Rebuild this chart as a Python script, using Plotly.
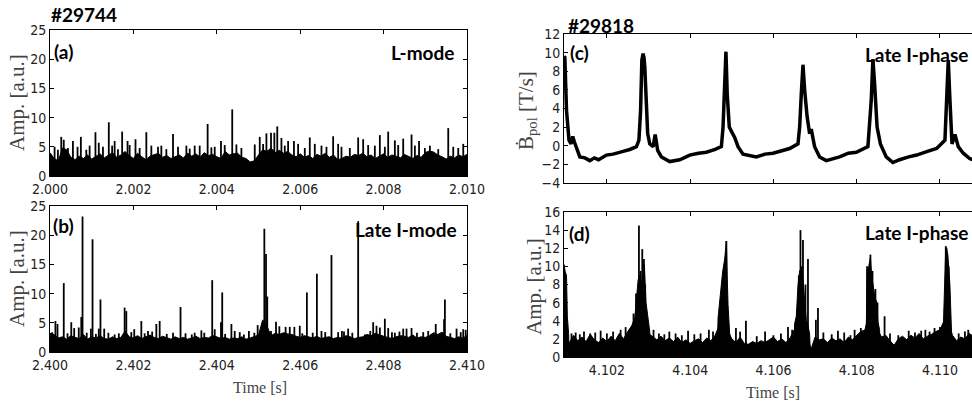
import plotly.graph_objects as go
import numpy as np

W, H = 972, 408

# ---------------- panel (a): #29744, L-mode ----------------
a_t0 = 2.000
a_step = 0.0001
a_base = [4.0, 3.0, 2.6, 4.8, 4.5, 3.2, 2.8, 3.4, 3.0, 3.6,
          2.9, 3.3, 3.8, 3.1, 3.5, 4.0, 3.2, 3.6, 4.2, 3.5,
          3.0, 3.9, 3.3, 2.8, 3.4, 3.7, 3.9, 3.2, 3.5, 3.0,
          3.3, 3.6, 3.1, 3.9, 3.4, 3.8, 3.2, 4.0, 3.5, 3.7,
          3.3, 3.0, 4.2, 3.6, 3.8, 3.9, 3.2, 3.0, 2.4, 2.6,
          3.6, 4.5, 4.2, 4.8, 4.0, 4.4, 3.9, 4.2, 3.6, 3.3,
          3.8, 3.2, 3.5, 3.0, 3.7, 3.4, 3.9, 3.2, 3.6, 2.8,
          3.0, 3.4, 3.2, 3.7, 3.5, 3.9, 3.3, 3.6, 3.0, 3.4,
          3.8, 3.2, 3.6, 3.4, 3.1, 3.7, 3.3, 3.0, 3.5, 3.2,
          4.0, 4.3, 4.1, 3.6, 3.3, 2.9, 3.4, 3.1, 3.6, 3.3,
          3.7]
a_spike_ms = [0.27, 0.33, 0.55, 0.74, 1.09, 1.17, 1.41, 1.55, 1.73, 1.86,
              2.05, 2.31, 2.59, 2.95, 3.27, 3.47, 3.78, 3.95, 4.10, 4.37,
              4.47, 5.03, 5.19, 5.30, 5.38, 5.45, 5.55, 5.71, 5.85, 6.23,
              6.35, 6.79, 6.91, 7.39, 7.51, 7.91, 8.11, 8.27, 8.47, 8.67,
              8.85, 9.55, 9.91,
              0.11, 0.19, 0.43, 0.66, 0.87, 0.95, 1.27, 1.49, 1.63, 1.91,
              2.15, 2.43, 2.67, 2.79, 3.07, 3.35, 3.59, 3.87, 4.19, 4.59,
              4.91, 5.11, 5.63, 5.95, 6.11, 6.51, 6.63, 6.99, 7.19, 7.63,
              7.79, 8.03, 8.35, 8.75, 8.99, 9.11, 9.31, 9.67, 9.79]
a_spike_amp = [6.7, 6.2, 6.0, 6.7, 7.5, 5.7, 9.2, 6.0, 7.6, 6.0,
               6.3, 7.5, 5.0, 7.2, 5.2, 5.2, 8.9, 5.0, 6.0, 11.4,
               5.4, 6.7, 7.3, 7.4, 7.4, 8.5, 6.5, 6.0, 6.0, 6.6,
               5.5, 6.8, 5.5, 6.6, 6.3, 7.0, 7.6, 6.1, 6.4, 7.1,
               6.0, 8.2, 5.5,
               5.0, 4.5, 4.8, 5.0, 4.5, 5.2, 5.0, 5.2, 4.6, 5.3,
               4.8, 5.2, 5.2, 4.6, 5.0, 4.7, 5.2, 4.9, 5.3, 4.8,
               5.4, 5.5, 5.2, 5.5, 4.8, 5.2, 5.0, 5.0, 4.8, 5.3,
               5.2, 5.0, 5.3, 5.2, 4.8, 5.2, 4.6, 5.0, 4.8]

# ---------------- panel (b): #29744, late I-mode ----------------
b_t0 = 2.400
b_step = 0.0001
b_base = [3.2, 3.0, 2.4, 2.6, 2.2, 2.8, 2.5, 2.3, 3.0, 2.2,
          2.6, 2.4, 2.8, 2.3, 2.2, 2.6, 2.3, 2.5, 3.6, 2.6,
          2.4, 2.8, 2.3, 2.6, 2.9, 2.5, 2.3, 2.7, 2.4, 2.2,
          2.6, 2.3, 2.5, 2.2, 2.4, 2.7, 2.3, 2.5, 2.4, 2.8,
          2.6, 2.3, 2.5, 2.2, 2.4, 2.3, 2.6, 2.2, 2.4, 2.7,
          2.9, 5.5, 4.5, 2.8, 3.2, 3.0, 3.3, 3.1, 3.0, 2.7,
          2.5, 2.8, 2.6, 2.4, 2.7, 2.3, 2.5, 2.6, 2.3, 2.5,
          2.4, 2.8, 2.6, 2.3, 2.5, 2.6, 3.0, 2.8, 3.2, 2.9,
          2.7, 2.5, 2.3, 2.6, 2.8, 2.7, 2.5, 2.9, 2.4, 2.6,
          2.5, 2.8, 3.3, 3.0, 3.4, 2.7, 2.5, 2.3, 2.6, 2.4,
          2.8]
b_spike_ms = [0.13, 0.18, 0.33, 0.51, 0.58, 0.69, 0.75, 0.78, 0.98, 1.02,
              1.17, 1.21, 1.30, 1.55, 1.79, 1.83, 2.02, 2.19, 2.35, 2.55,
              2.63, 3.13, 3.47, 3.63, 3.89, 3.95, 4.10, 4.13, 4.35, 4.43,
              4.77, 4.98, 5.14, 5.18, 5.21, 5.42, 5.50, 5.65, 5.75, 5.86,
              5.99, 6.16, 6.40, 6.51, 6.75, 6.91, 7.15, 7.39, 7.75, 7.83,
              7.91, 8.03, 8.11, 8.27, 8.47, 8.55, 8.67, 9.07, 9.25, 9.45,
              9.47, 9.75, 9.91,
              0.05, 0.42, 0.88, 1.10, 1.40, 1.65, 1.95, 2.27, 2.45, 2.80,
              2.95, 3.25, 3.40, 3.70, 4.20, 4.55, 4.65, 4.90, 5.30, 6.05,
              6.30, 6.60, 7.00, 7.05, 7.25, 7.55, 7.68, 8.20, 8.38, 8.80,
              8.95, 9.15, 9.60, 9.85, 9.97]
b_spike_amp = [5.3, 4.8, 11.8, 5.1, 4.1, 4.2, 6.0, 23.2, 4.0, 19.3,
               4.0, 9.0, 4.0, 3.0, 7.6, 7.0, 3.9, 5.3, 3.6, 4.8,
               5.3, 7.7, 3.3, 3.7, 12.3, 3.9, 5.1, 10.2, 4.8, 3.6,
               3.6, 4.6, 21.1, 16.8, 9.5, 5.2, 4.4, 4.3, 4.3, 4.3,
               4.5, 10.2, 13.4, 3.6, 16.6, 3.4, 4.0, 22.4, 5.1, 4.5,
               4.2, 5.7, 4.1, 3.3, 4.0, 4.0, 4.1, 3.6, 4.8, 5.6,
               9.0, 4.0, 3.9,
               3.4, 3.2, 3.3, 3.1, 3.3, 3.2, 3.4, 3.2, 3.5, 3.1,
               3.3, 3.2, 3.0, 3.3, 3.1, 3.4, 3.0, 3.3, 3.6, 3.2,
               3.3, 3.4, 3.6, 3.5, 3.3, 3.0, 3.6, 3.4, 3.5, 3.3,
               3.4, 3.1, 3.2, 3.4, 3.8]

# ---------------- panel (c): #29818, dB_pol/dt ----------------
c_t = [4.10097, 4.10099, 4.10103, 4.10109, 4.10114, 4.10118, 4.10122, 4.10126,
       4.10135, 4.10147, 4.10159, 4.10170, 4.10180, 4.10199, 4.10215, 4.10239,
       4.10255, 4.10271, 4.10277, 4.10281, 4.10284, 4.10287, 4.10289, 4.10291,
       4.10294, 4.10298, 4.10303, 4.10311, 4.10316, 4.10322, 4.10331, 4.10351,
       4.10375, 4.10399, 4.10420, 4.10439, 4.10460, 4.10475, 4.10479, 4.10483,
       4.10486, 4.10489, 4.10494, 4.10502, 4.10507, 4.10515, 4.10527, 4.10559,
       4.10580, 4.10599, 4.10620, 4.10639, 4.10659, 4.10663, 4.10667, 4.10671,
       4.10675, 4.10681, 4.10687, 4.10691, 4.10695, 4.10699, 4.10711, 4.10727,
       4.10759, 4.10780, 4.10799, 4.10815, 4.10827, 4.10835, 4.10839, 4.10843,
       4.10849, 4.10857, 4.10871, 4.10887, 4.10903, 4.10925, 4.10944, 4.10970,
       4.10992, 4.11012, 4.11016, 4.11020, 4.11024, 4.11029, 4.11036, 4.11044,
       4.11056, 4.11072, 4.11080]
c_v = [9.6, 9.5, 3.8, 0.6, 0.2, 1.0, 0.4, -0.1,
       -1.2, -1.3, -1.6, -1.3, -1.5, -1.0, -0.9, -0.6,
       -0.4, -0.1, 0.6, 3.8, 9.2, 9.9, 9.5, 8.5,
       4.9, 1.3, 0.2, -0.1, 1.2, -0.5, -1.2, -1.7,
       -1.5, -1.0, -0.8, -0.7, -0.4, -0.1, 2.0, 6.7,
       10.1, 5.6, 2.0, 1.3, 0.9, -0.1, -0.9, -1.2,
       -0.9, -0.8, -0.5, -0.3, 0.2, 2.0, 5.6, 8.7,
       6.0, 3.1, 1.3, 1.8, 0.8, -0.1, -1.2, -1.6,
       -1.2, -0.8, -0.7, -0.4, -0.1, 4.9, 9.3, 6.7,
       2.0, 0.2, -1.2, -1.8, -1.5, -1.2, -1.0, -0.6,
       -0.3, 0.6, 4.9, 9.2, 4.9, 0.2, 1.2, -0.1,
       -0.8, -1.4, -1.5]

# ---------------- panel (d): #29818, amplitude ----------------
d_t0 = 4.1010
d_step = 0.0001
d_base = [2.0, 1.6, 2.4, 1.8, 2.2, 1.7, 2.5, 1.9, 1.6, 2.1,
          1.7, 2.3, 1.8, 2.6, 2.0, 2.8, 3.4, 4.0, 5.0, 4.0,
          2.6, 2.2, 1.9, 2.3, 1.8, 2.1, 1.7, 2.2, 1.6, 1.9,
          1.5, 1.8, 2.0, 1.6, 2.1, 1.8, 2.4, 3.5, 5.0, 3.0,
          2.0, 1.6, 2.2, 1.5, 1.4, 1.7, 1.5, 1.8, 1.6, 1.9,
          2.2, 1.7, 2.0, 1.6, 2.1, 3.0, 4.5, 5.0, 3.0, 0.8,
          2.2, 1.9, 2.0, 1.6, 2.1, 1.8, 2.0, 1.6, 2.2, 1.9,
          2.4, 2.8, 3.0, 5.0, 5.0, 3.0, 2.2, 2.4, 1.8, 1.3,
          2.0, 2.3, 1.9, 2.4, 2.1, 2.6, 2.0, 2.3, 2.5, 2.8,
          3.0, 4.0, 4.0, 2.4, 1.8, 2.2, 2.0, 2.6, 2.3]
d_burst_t = [4.10097, 4.10097, 4.10100, 4.10103, 4.10105, 4.10108, 4.10110,
             4.10249, 4.10251, 4.10260, 4.10267, 4.10271, 4.10275, 4.10279, 4.10283,
             4.10287, 4.10290, 4.10294, 4.10299, 4.10303, 4.10305,
             4.10465, 4.10467, 4.10471, 4.10475, 4.10478, 4.10483, 4.10487, 4.10489,
             4.10491, 4.10495, 4.10497,
             4.10649, 4.10651, 4.10655, 4.10659, 4.10663, 4.10667, 4.10671, 4.10675,
             4.10679, 4.10683, 4.10687, 4.10689,
             4.10822, 4.10824, 4.10825, 4.10829, 4.10833, 4.10836, 4.10839, 4.10844,
             4.10848, 4.10851, 4.10855, 4.10857,
             4.11006, 4.11008, 4.11011, 4.11014, 4.11019, 4.11022, 4.11024, 4.11028,
             4.11030]
d_burst_v = [0, 10.2, 9.4, 9.0, 4.5, 2.6, 0,
             0, 2.8, 3.5, 4.3, 6.5, 8.5, 9.0, 8.0,
             9.5, 10.2, 6.0, 4.3, 2.8, 0,
             0, 4.3, 6.1, 7.5, 9.4, 10.8, 12.8, 9.0,
             5.8, 2.5, 0,
             0, 3.7, 4.5, 7.9, 9.5, 9.8, 8.5, 6.0,
             4.0, 3.5, 2.5, 0,
             0, 6.0, 9.5, 10.0, 11.0, 9.0, 7.9, 6.5,
             6.1, 3.9, 3.0, 0,
             0, 3.3, 6.0, 12.2, 11.3, 9.0, 7.9, 2.5,
             0]
d_spike_t = [4.10125, 4.10145, 4.10185, 4.10233, 4.10264, 4.10277, 4.10285, 4.10289,
             4.10312, 4.10350, 4.10395, 4.10445, 4.10487, 4.10510, 4.10534, 4.10580,
             4.10635, 4.10665, 4.10668, 4.10671, 4.10683, 4.10702, 4.10707, 4.10755,
             4.10795, 4.10825, 4.10833, 4.10867, 4.10925, 4.10965, 4.10987, 4.11014,
             4.11068,
             4.10270, 4.10281, 4.10292, 4.10480, 4.10485, 4.10661, 4.10677, 4.10838,
             4.10845, 4.10850, 4.11016, 4.11021,
             4.10115, 4.10135, 4.10160, 4.10172, 4.10200, 4.10215, 4.10245, 4.10325,
             4.10338, 4.10365, 4.10380, 4.10410, 4.10425, 4.10455, 4.10520, 4.10560,
             4.10600, 4.10618, 4.10645, 4.10720, 4.10740, 4.10770, 4.10785, 4.10810,
             4.10880, 4.10900, 4.10940, 4.10955, 4.10975, 4.11000, 4.11045, 4.11060]
d_spike_amp = [2.7, 2.8, 2.9, 3.0, 4.8, 14.5, 11.9, 10.8,
               3.0, 2.8, 2.9, 3.0, 12.8, 3.2, 4.0, 2.8,
               3.3, 14.0, 10.0, 12.9, 10.8, 4.1, 5.4, 2.9,
               3.0, 10.0, 11.3, 4.5, 2.9, 3.0, 3.2, 12.2,
               3.0,
               7.0, 9.5, 8.0, 8.5, 11.0, 9.0, 8.0, 9.5,
               7.5, 6.0, 12.0, 10.0,
               2.6, 2.5, 2.6, 2.7, 2.6, 2.8, 3.3, 2.6,
               2.5, 2.6, 2.4, 2.5, 2.6, 2.8, 2.8, 2.3,
               2.4, 2.6, 3.0, 2.7, 2.5, 2.7, 2.4, 3.2,
               2.6, 2.4, 2.7, 2.9, 2.8, 3.3, 2.6, 2.8]

# tick labels
left_a_ticks = [2.000, 2.002, 2.004, 2.006, 2.008, 2.010]
left_b_ticks = [2.400, 2.402, 2.404, 2.406, 2.408, 2.410]
right_ticks = [4.102, 4.104, 4.106, 4.108, 4.110]
amp_left_ticks = [0, 5, 10, 15, 20, 25]
bpol_ticks = [-4, -2, 0, 2, 4, 6, 8, 10, 12]
amp_right_ticks = [0, 2, 4, 6, 8, 10, 12, 14, 16]


def seg(ts, hs):
    xs, ys = [], []
    for t, h in zip(ts, hs):
        xs += [t, t, None]
        ys += [0, h, None]
    return xs, ys


fig = go.Figure()
BLACK = "#000000"
SPW = 1.8

# (a)
ta = a_t0 + a_step * np.arange(len(a_base))
fig.add_trace(go.Scatter(x=ta, y=a_base, mode="lines", fill="tozeroy",
                         fillcolor=BLACK, line=dict(color=BLACK, width=1),
                         xaxis="x", yaxis="y", showlegend=False, hoverinfo="skip"))
sx, sy = seg([a_t0 + m / 1000 for m in a_spike_ms], a_spike_amp)
fig.add_trace(go.Scatter(x=sx, y=sy, mode="lines", line=dict(color=BLACK, width=SPW),
                         xaxis="x", yaxis="y", showlegend=False, hoverinfo="skip"))
# (b)
tb = b_t0 + b_step * np.arange(len(b_base))
fig.add_trace(go.Scatter(x=tb, y=b_base, mode="lines", fill="tozeroy",
                         fillcolor=BLACK, line=dict(color=BLACK, width=1),
                         xaxis="x2", yaxis="y2", showlegend=False, hoverinfo="skip"))
sx, sy = seg([b_t0 + m / 1000 for m in b_spike_ms], b_spike_amp)
fig.add_trace(go.Scatter(x=sx, y=sy, mode="lines", line=dict(color=BLACK, width=SPW),
                         xaxis="x2", yaxis="y2", showlegend=False, hoverinfo="skip"))
# (c)
fig.add_trace(go.Scatter(x=c_t, y=c_v, mode="lines", line=dict(color=BLACK, width=3.5),
                         xaxis="x3", yaxis="y3", showlegend=False, hoverinfo="skip"))
# (d)
td = d_t0 + d_step * np.arange(len(d_base))
fig.add_trace(go.Scatter(x=td, y=d_base, mode="lines", fill="tozeroy",
                         fillcolor=BLACK, line=dict(color=BLACK, width=1),
                         xaxis="x4", yaxis="y4", showlegend=False, hoverinfo="skip"))
fig.add_trace(go.Scatter(x=d_burst_t, y=d_burst_v, mode="lines", fill="tozeroy",
                         fillcolor=BLACK, line=dict(color=BLACK, width=1),
                         xaxis="x4", yaxis="y4", showlegend=False, hoverinfo="skip"))
sx, sy = seg(d_spike_t, d_spike_amp)
fig.add_trace(go.Scatter(x=sx, y=sy, mode="lines", line=dict(color=BLACK, width=SPW),
                         xaxis="x4", yaxis="y4", showlegend=False, hoverinfo="skip"))

TICKFONT = dict(family="DejaVu Sans Condensed, DejaVu Sans", size=14, color="#222")


def px(x):
    return x / W


def py(y):
    return 1 - y / H


def xax(domain, anchor, rng, tv, labels, show=True):
    return dict(domain=domain, anchor=anchor, range=rng, tickvals=tv,
                ticktext=labels, showticklabels=show, ticks="inside", ticklen=4,
                tickwidth=1, tickcolor=BLACK, showline=True, linecolor=BLACK,
                linewidth=1, mirror="ticks", showgrid=False, zeroline=False,
                tickfont=TICKFONT, automargin=False)


def yax(domain, anchor, rng, tv, mirror=True):
    return dict(domain=domain, anchor=anchor, range=rng, tickvals=tv,
                ticktext=[str(v).replace("-", "\u2212") for v in tv],
                ticks="inside", ticklen=4, tickwidth=1, tickcolor=BLACK,
                showline=True, linecolor=BLACK, linewidth=1,
                mirror="ticks" if mirror else False, showgrid=False,
                zeroline=False, tickfont=TICKFONT, automargin=False)


dxl = [px(50), px(467)]
dxr = [px(564), 1.0]
fig.update_layout(
    width=W, height=H, autosize=False,
    margin=dict(l=0, r=0, t=0, b=0, pad=0, autoexpand=False),
    paper_bgcolor="white", plot_bgcolor="white",
    xaxis=xax(dxl, "y", [2.000, 2.010], left_a_ticks, ["%.3f" % v for v in left_a_ticks]),
    yaxis=yax([py(176), py(30)], "x", [0, 25], amp_left_ticks),
    xaxis2=xax(dxl, "y2", [2.400, 2.410], left_b_ticks, ["%.3f" % v for v in left_b_ticks]),
    yaxis2=yax([py(352), py(206)], "x2", [0, 25], amp_left_ticks),
    xaxis3=xax(dxr, "y3", [4.10097, 4.11077], right_ticks, ["%.3f" % v for v in right_ticks], show=False),
    yaxis3=yax([py(183), py(34)], "x3", [-4, 12], bpol_ticks, mirror=False),
    xaxis4=xax(dxr, "y4", [4.10097, 4.11077], right_ticks, ["%.3f" % v for v in right_ticks]),
    yaxis4=yax([py(357), py(212)], "x4", [0, 16], amp_right_ticks, mirror=False),
)

LBL = dict(family="Lato, Liberation Sans", size=19, color=BLACK)
SERIF = dict(family="Liberation Serif, DejaVu Serif", size=21, color="#444")
SERIF_X = dict(family="Liberation Serif, DejaVu Serif", size=16, color="#444")

ann = [
    ("<b>#29744</b>", 49, 15, "left", LBL, 0),
    ("<b>(a)</b>", 52, 51, "left", LBL, 0),
    ("<b>L-mode</b>", 456, 52, "right", LBL, 0),
    ("<b>(b)</b>", 51, 225, "left", LBL, 0),
    ("<b>Late I-mode</b>", 459, 229, "right", LBL, 0),
    ("<b>#29818</b>", 566, 25, "left", LBL, 0),
    ("<b>(c)</b>", 568, 53, "left", LBL, 0),
    ("<b>Late I-phase</b>", 971, 55, "right", LBL, 0),
    ("<b>(d)</b>", 567, 233, "left", LBL, 0),
    ("<b>Late I-phase</b>", 971, 232, "right", LBL, 0),
    ("Amp. [a.u.]", 17, 103, "center", SERIF, -90),
    ("Amp. [a.u.]", 17, 279, "center", SERIF, -90),
    ("\u1E02<sub>pol</sub> [T/s]", 527, 111, "center", SERIF, -90),
    ("Amp. [a.u.]", 534, 287, "center", SERIF, -90),
    ("Time [s]", 260, 387, "center", SERIF_X, 0),
    ("Time [s]", 773, 392, "center", SERIF_X, 0),
]
for text, x, y, xa, font, ang in ann:
    fig.add_annotation(text=text, x=px(x), y=py(y), xref="paper", yref="paper",
                       xanchor=xa, yanchor="middle", showarrow=False, font=font,
                       textangle=ang)

fig.write_html("out.html",
               config={"displayModeBar": False, "responsive": False},
               post_script="document.documentElement.style.overflow='hidden';"
                           "document.body.style.margin='0';document.body.style.padding='0';"
                           "document.body.style.overflow='hidden';")
